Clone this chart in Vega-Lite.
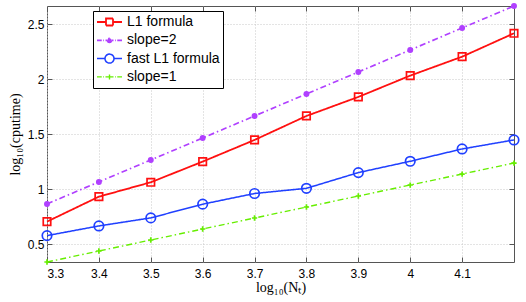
{
  "$schema": "https://vega.github.io/schema/vega-lite/v6.json",
  "width": 467,
  "height": 256,
  "autosize": {"type": "none"},
  "padding": {"left": 47, "top": 6, "right": 12, "bottom": 40},
  "background": "white",
  "config": {
    "view": {"stroke": "#555", "strokeWidth": 1},
    "axis": {
      "domain": false,
      "grid": true,
      "gridColor": "#c8c8c8",
      "gridDash": [1, 2],
      "gridWidth": 1,
      "tickColor": "#555",
      "tickSize": -5,
      "labelFont": "Liberation Sans",
      "labelFontSize": 12,
      "labelColor": "#000",
      "titleFont": "Liberation Serif",
      "titleFontSize": 14,
      "titleFontWeight": "normal",
      "titleColor": "#000"
    }
  },
  "data": {
    "values": [
      {"x": 3.3, "y": 0.707, "series": "L1 formula"},
      {"x": 3.4, "y": 0.934, "series": "L1 formula"},
      {"x": 3.5, "y": 1.065, "series": "L1 formula"},
      {"x": 3.6, "y": 1.253, "series": "L1 formula"},
      {"x": 3.7, "y": 1.45, "series": "L1 formula"},
      {"x": 3.8, "y": 1.668, "series": "L1 formula"},
      {"x": 3.9, "y": 1.841, "series": "L1 formula"},
      {"x": 4.0, "y": 2.035, "series": "L1 formula"},
      {"x": 4.1, "y": 2.207, "series": "L1 formula"},
      {"x": 4.2, "y": 2.42, "series": "L1 formula"},
      {"x": 3.3, "y": 0.868, "series": "slope=2"},
      {"x": 3.4, "y": 1.068, "series": "slope=2"},
      {"x": 3.5, "y": 1.268, "series": "slope=2"},
      {"x": 3.6, "y": 1.468, "series": "slope=2"},
      {"x": 3.7, "y": 1.668, "series": "slope=2"},
      {"x": 3.8, "y": 1.868, "series": "slope=2"},
      {"x": 3.9, "y": 2.068, "series": "slope=2"},
      {"x": 4.0, "y": 2.268, "series": "slope=2"},
      {"x": 4.1, "y": 2.468, "series": "slope=2"},
      {"x": 4.2, "y": 2.668, "series": "slope=2"},
      {"x": 3.3, "y": 0.58, "series": "fast L1 formula"},
      {"x": 3.4, "y": 0.668, "series": "fast L1 formula"},
      {"x": 3.5, "y": 0.741, "series": "fast L1 formula"},
      {"x": 3.6, "y": 0.866, "series": "fast L1 formula"},
      {"x": 3.7, "y": 0.963, "series": "fast L1 formula"},
      {"x": 3.8, "y": 1.01, "series": "fast L1 formula"},
      {"x": 3.9, "y": 1.153, "series": "fast L1 formula"},
      {"x": 4.0, "y": 1.256, "series": "fast L1 formula"},
      {"x": 4.1, "y": 1.368, "series": "fast L1 formula"},
      {"x": 4.2, "y": 1.45, "series": "fast L1 formula"},
      {"x": 3.3, "y": 0.34, "series": "slope=1"},
      {"x": 3.4, "y": 0.44, "series": "slope=1"},
      {"x": 3.5, "y": 0.54, "series": "slope=1"},
      {"x": 3.6, "y": 0.64, "series": "slope=1"},
      {"x": 3.7, "y": 0.74, "series": "slope=1"},
      {"x": 3.8, "y": 0.84, "series": "slope=1"},
      {"x": 3.9, "y": 0.94, "series": "slope=1"},
      {"x": 4.0, "y": 1.04, "series": "slope=1"},
      {"x": 4.1, "y": 1.14, "series": "slope=1"},
      {"x": 4.2, "y": 1.24, "series": "slope=1"}
    ]
  },
  "resolve": {"axis": {"x": "independent", "y": "independent"}},
  "layer": [
    {
      "mark": {"type": "line", "clip": false},
      "encoding": {
        "x": {
          "field": "x", "type": "quantitative",
          "scale": {"domain": [3.3, 4.2], "nice": false, "zero": false},
          "axis": {"values": [3.3, 3.4, 3.5, 3.6, 3.7, 3.8, 3.9, 4.0, 4.1], "format": ".1~f", "title": "log₁₀(Nₜ)", "labelPadding": 11, "titlePadding": 1}
        },
        "y": {
          "field": "y", "type": "quantitative",
          "scale": {"domain": [0.34, 2.668], "nice": false, "zero": false},
          "axis": {"values": [0.5, 1, 1.5, 2, 2.5], "format": "~g", "title": "log₁₀(cputime)", "labelPadding": 8, "titlePadding": 5}
        },
        "color": {
          "field": "series", "type": "nominal",
          "scale": {"domain": ["L1 formula", "slope=2", "fast L1 formula", "slope=1"], "range": ["#ff1010", "#b040ff", "#2040ff", "#66ee00"]},
          "legend": {
            "title": null,
            "orient": "none",
            "legendX": 46,
            "legendY": 5,
            "strokeColor": "#000",
            "fillColor": "#fff",
            "padding": 3,
            "symbolSize": 625,
            "symbolStrokeWidth": 1.5,
            "clipHeight": 16,
            "rowPadding": 2.3,
            "labelOffset": 4,
            "labelFont": "Liberation Sans",
            "labelFontSize": 14,
            "labelColor": "#000",
            "encode": {
              "symbols": {
                "update": {
                  "shape": {"signal": "datum.value == 'L1 formula' ? 'M-1,0H-0.28M0.28,0H1M-0.28,-0.28H0.28V0.28H-0.28Z' : datum.value == 'slope=2' ? 'M-1,0H-0.62M-0.5,0H-0.44M-0.32,0H-0.16M0.16,0H0.32M0.44,0H0.5M0.62,0H1M-0.16,0A0.16,0.16,0,1,0,0.16,0A0.16,0.16,0,1,0,-0.16,0Z' : datum.value == 'fast L1 formula' ? 'M-1,0H-0.36M0.36,0H1M-0.36,0A0.36,0.36,0,1,0,0.36,0A0.36,0.36,0,1,0,-0.36,0Z' : 'M-1,0H-0.62M-0.5,0H-0.44M-0.32,0H-0.2M0.2,0H0.32M0.44,0H0.5M0.62,0H1M-0.2,0H0.2M0,-0.2V0.2'"},
                  "fill": {"signal": "datum.value == 'slope=2' ? '#b040ff' : 'transparent'"},
                  "strokeDash": {"value": [1, 0]},
                  "strokeWidth": {"signal": "(datum.value == 'slope=2' || datum.value == 'slope=1') ? 1.3 : 1.6"}
                }
              }
            }
          }
        },
        "strokeDash": {
          "field": "series", "type": "nominal",
          "scale": {"domain": ["L1 formula", "slope=2", "fast L1 formula", "slope=1"], "range": [[1, 0], [6, 3, 1.5, 3], [1, 0], [6, 3, 1.5, 3]]},
          "legend": null
        },
        "strokeWidth": {
          "field": "series", "type": "nominal",
          "scale": {"domain": ["L1 formula", "slope=2", "fast L1 formula", "slope=1"], "range": [1.8, 1.4, 1.8, 1.4]},
          "legend": null
        }
      }
    },
    {
      "mark": {"type": "point", "clip": false, "strokeWidth": 1.7, "opacity": 1},
      "encoding": {
        "x": {"field": "x", "type": "quantitative", "axis": {"orient": "top", "labels": false, "grid": false, "title": null, "values": [3.3, 3.4, 3.5, 3.6, 3.7, 3.8, 3.9, 4.0, 4.1]}},
        "y": {"field": "y", "type": "quantitative", "axis": {"orient": "right", "labels": false, "grid": false, "title": null, "values": [0.5, 1, 1.5, 2, 2.5]}},
        "shape": {
          "condition": [
            {"test": "datum.series == 'L1 formula'", "value": "square"},
            {"test": "datum.series == 'slope=1'", "value": "M-1,0H1M0,-1V1"}
          ],
          "value": "circle"
        },
        "size": {
          "condition": [
            {"test": "datum.series == 'L1 formula'", "value": 56},
            {"test": "datum.series == 'slope=2'", "value": 18},
            {"test": "datum.series == 'fast L1 formula'", "value": 90}
          ],
          "value": 28
        },
        "stroke": {
          "condition": [
            {"test": "datum.series == 'L1 formula'", "value": "#ff1010"},
            {"test": "datum.series == 'slope=2'", "value": "#b040ff"},
            {"test": "datum.series == 'fast L1 formula'", "value": "#2040ff"}
          ],
          "value": "#66ee00"
        },
        "fill": {
          "condition": [
            {"test": "datum.series == 'slope=2'", "value": "#b040ff"}
          ],
          "value": "transparent"
        }
      }
    }
  ]
}
